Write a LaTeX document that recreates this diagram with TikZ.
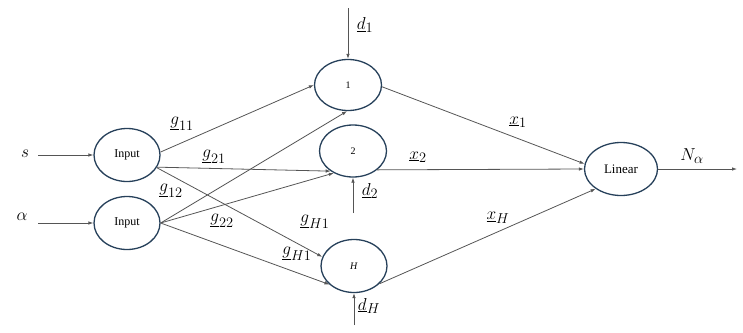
\documentclass[tikz,border=0pt]{standalone}
\usepackage{fontspec}
\newfontfamily\tnr{Liberation Serif}
\usetikzlibrary{shapes.geometric,arrows.meta}
\DeclareMathSizes{18}{18}{13.5}{10}
\definecolor{ringcol}{RGB}{38,64,90}
\definecolor{linecol}{RGB}{85,85,85}
\begin{document}
\begin{tikzpicture}[x=1pt,y=-1pt,
  neuron/.style={ellipse,draw=ringcol,line width=1.3pt,minimum width=66pt,minimum height=53pt,inner sep=0pt,font=\tnr\fontsize{12}{14}\selectfont},
  smalltxt/.style={font=\tnr\fontsize{10}{11}\selectfont},
  conn/.style={draw=linecol,line width=0.8pt,-{Latex[length=5pt,width=3.5pt]}},
  lbl/.style={font=\fontsize{18}{20}\selectfont,inner sep=0pt}]
\useasboundingbox (0,0) rectangle (743,332);
% neurons
\node[neuron] (in1) at (127,155) {Input};
\node[neuron] (in2) at (127,223) {Input};
\node[neuron,smalltxt,minimum width=67pt,minimum height=51pt] (n1) at (348,85) {1};
\node[neuron,smalltxt,minimum width=67pt,minimum height=52pt] (n2) at (353,151) {2};
\node[neuron,smalltxt] (nH) at (354,266) {\textit{H}};
\node[neuron,minimum width=73pt,font=\tnr\fontsize{13}{15}\selectfont] (lin) at (621,169) {Linear};
% free ends
\coordinate (sL) at (38,155);
\coordinate (aL) at (38,223);
\coordinate (d1s) at (348,8);
\coordinate (d2s) at (353,213);
\coordinate (dHs) at (354,325);
\coordinate (out) at (737,169);
% connectors
\draw[conn] (sL) -- (in1.west);
\draw[conn] (aL) -- (in2.west);
\draw[conn] (in1.5) -- (n1.180);
\draw[conn] (in1.-22) -- (n2.222);
\draw[conn] (in1.-23) -- (nH.164);
\draw[conn] (in2.east) -- (n1.268);
\draw[conn] (in2.east) -- (n2.229);
\draw[conn] (in2.east) -- (nH.217);
\draw[conn] (n1.-3) -- (lin.172);
\draw[conn] (n2.-38) -- (lin.west);
\draw[conn] (nH.-35) -- (lin.218);
\draw[conn] (lin.east) -- (out);
\draw[conn] (d1s) -- (n1.north);
\draw[conn] (d2s) -- (n2.south);
\draw[conn] (dHs) -- (nH.south);
% labels
\node[lbl] (ls) at (25,154) {$s$};
\node[lbl] (la) at (22,217) {$\alpha$};
\node[lbl] (lg11) at (182,124) {$\underline{g}_{11}$};
\node[lbl] (lg21) at (214,157) {$\underline{g}_{21}$};
\node[lbl] (lg12) at (171,191) {$\underline{g}_{12}$};
\node[lbl] (lg22) at (222,221) {$\underline{g}_{22}$};
\node[lbl] (lgH1a) at (315,222) {$\underline{g}_{H1}$};
\node[lbl] (lgH1b) at (297,254) {$\underline{g}_{H1}$};
\node[lbl] (ld1) at (365,25) {$\underline{d}_1$};
\node[lbl] (ld2) at (370,191) {$\underline{d}_2$};
\node[lbl] (ldH) at (369,306) {$\underline{d}_H$};
\node[lbl] (lx1) at (518,122) {$\underline{x}_1$};
\node[lbl] (lx2) at (418,157) {$\underline{x}_2$};
\node[lbl] (lxH) at (498,218) {$\underline{x}_H$};
\node[lbl] (lN) at (692,156) {$N_\alpha$};
\end{tikzpicture}
\end{document}
